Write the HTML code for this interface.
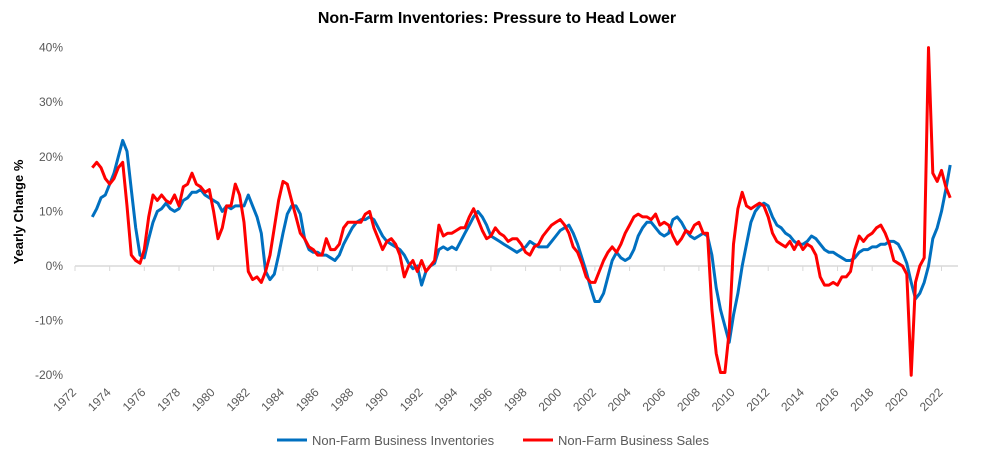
<!DOCTYPE html>
<html><head><meta charset="utf-8"><style>
body{margin:0;background:#fff;font-family:"Liberation Sans",Arial,sans-serif}
svg text{font-family:"Liberation Sans",Arial,sans-serif}
</style></head><body>
<svg id="chart" width="994" height="463" viewBox="0 0 994 463" xmlns="http://www.w3.org/2000/svg">
<text x="497" y="23" text-anchor="middle" font-size="16" font-weight="bold" fill="#000">Non-Farm Inventories: Pressure to Head Lower</text>
<text transform="translate(23,212) rotate(-90)" text-anchor="middle" font-size="13" font-weight="bold" fill="#000">Yearly Change %</text>
<g id="yticks"></g><g id="xaxis"></g><g id="series"></g>
<g>
<line x1="277" y1="440" x2="307" y2="440" stroke="#0070C0" stroke-width="3"/>
<text x="312" y="445" font-size="13" fill="#595959">Non-Farm Business Inventories</text>
<line x1="523" y1="440" x2="553" y2="440" stroke="#FF0000" stroke-width="3"/>
<text x="558" y="445" font-size="13" fill="#595959">Non-Farm Business Sales</text>
</g>
</svg>
<script>
const startYear = 1973;
const step = 0.25;
const yTickValues = [40,30,20,10,0,-10,-20];
const xTickYears = [1972,1974,1976,1978,1980,1982,1984,1986,1988,1990,1992,1994,1996,1998,2000,2002,2004,2006,2008,2010,2012,2014,2016,2018,2020,2022];
const inventories = [9,10.5,12.5,13,15,17,20,23,21,14,7,2,1.5,5,8,10,10.5,11.5,10.5,10,10.5,12,12.5,13.5,13.5,14,13,12.5,12,11.5,10,11,10.5,11,11,11,13,11,9,6,-1,-2.5,-1.5,2,6,9.5,11,11,9.5,5,3,2.5,2.5,2,2,1.5,1,2,4,5.5,7,8,8.5,8.5,9,8.5,7,5.5,4.5,4,3.5,3,2,0.5,-0.5,0,-3.5,-1,0,0.5,3,3.5,3,3.5,3,4.5,6,7.5,9,10,9,7.5,5.5,5,4.5,4,3.5,3,2.5,3,3.5,4.5,4,3.5,3.5,3.5,4.5,5.5,6.5,7,7.5,6,4,1.5,-1,-4,-6.5,-6.5,-5,-2,1,2.5,1.5,1,1.5,3,5.5,7,8,8,7,6,5.5,6,8.5,9,8,6.5,5.5,5,5.5,6,5.5,2,-4,-8,-11,-14,-9,-5,0,4,8,10,11,11.5,11,9,7.5,7,6,5.5,4.5,4,4,4.5,5.5,5,4,3,2.5,2.5,2,1.5,1,1,1.5,2.5,3,3,3.5,3.5,4,4,4.5,4.5,4,2.5,0.5,-3,-6,-5,-3,0,5,7,10,14,18.5];
const sales = [18,19,18,16,15,16,18,19,11,2,1,0.5,3,9,13,12,13,12,11.5,13,11,14.5,15,17,15,14.5,13.5,14,10,5,7,11,11,15,13,8,-1,-2.5,-2,-3,-1,2,7,12,15.5,15,12,9,6,5,3.5,3,2,2,5,3,3,4,7,8,8,8,8,9.5,10,7,5,3,4.5,5,4,2,-2,0,1,-1,1,-1,0,1,7.5,5.5,6,6,6.5,7,7,9,10.5,8.5,6.5,5,5.5,7,6,5.5,4.5,5,5,4,2.5,2,3.5,4,5.5,6.5,7.5,8,8.5,7.5,6,3.5,2.5,0.5,-2,-3,-3,-1,1,2.5,3.5,2.5,4,6,7.5,9,9.5,9,9,8.5,9.5,7.5,8,7.5,5.5,4,5,6.5,6,7.5,8,6,6,-8,-16,-19.5,-19.5,-12,4,10.5,13.5,11,10.5,11,11.5,11,9,6,4.5,4,3.5,4.5,3,4.5,3,4,3.5,2,-2,-3.5,-3.5,-3,-3.5,-2,-2,-1,3,5.5,4.5,5.5,6,7,7.5,6,4,1,0.5,0,-1.5,-20,-3,0,1.5,40,17,15.5,17.5,14.5,12.5];
const NS='http://www.w3.org/2000/svg';
function xs(year){return 75+(year-1972)*17.33;}
function ys(v){return 266-v*5.46;}
function mk(tag,attrs,parent){const e=document.createElementNS(NS,tag);for(const k in attrs)e.setAttribute(k,attrs[k]);parent.appendChild(e);return e;}
const yg=document.getElementById('yticks');
yTickValues.forEach(v=>{
  const t=mk('text',{x:63,y:ys(v)+4,'text-anchor':'end','font-size':'12',fill:'#595959'},yg);
  
  
  t.textContent=v+'%';
});
const xg=document.getElementById('xaxis');
const axl=mk('line',{x1:75,y1:ys(0),x2:958,y2:ys(0),stroke:'#d9d9d9','stroke-width':1.5},xg);


xTickYears.forEach(yr=>{
  const x=xs(yr);
  const tk=mk('line',{x1:x,y1:ys(0),x2:x,y2:ys(0)+5,stroke:'#d9d9d9','stroke-width':1},xg);
  
  
  const t=mk('text',{transform:`translate(${x+2},${393}) rotate(-45)`,'text-anchor':'end','font-size':'12',fill:'#595959'},xg);
  
  
  t.textContent=yr;
});
const sg=document.getElementById('series');
function path(arr){return arr.map((v,i)=>(i?'L':'M')+xs(startYear+i*step).toFixed(1)+' '+ys(v).toFixed(1)).join(' ');}
const pi=mk('path',{d:path(inventories),fill:'none',stroke:'#0070C0','stroke-width':3,'stroke-linejoin':'round'},sg);


const ps=mk('path',{d:path(sales),fill:'none',stroke:'#FF0000','stroke-width':3,'stroke-linejoin':'round'},sg);


</script>
</body></html>
